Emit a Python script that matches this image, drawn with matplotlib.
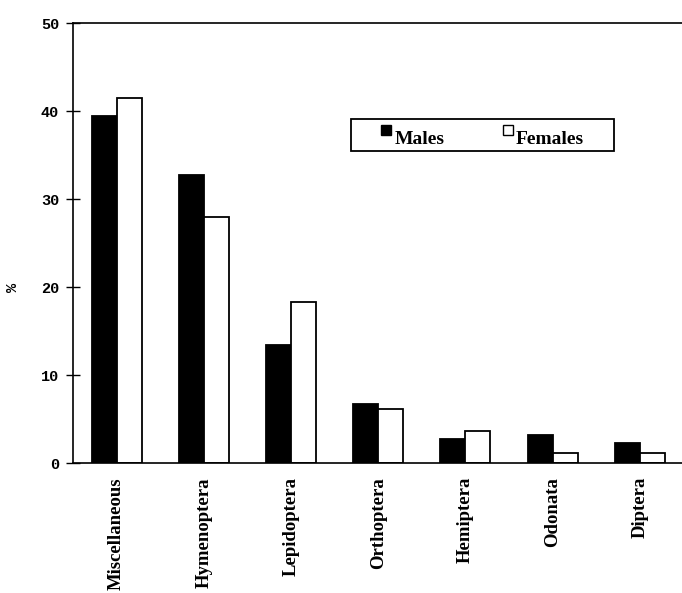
import matplotlib
matplotlib.use("Agg")
import matplotlib.pyplot as plt
from matplotlib.patches import Rectangle
import numpy as np

CATEGORIES = ["Miscellaneous", "Hymenoptera", "Lepidoptera", "Orthoptera",
              "Hemiptera", "Odonata", "Diptera"]
MALES = [39.4, 32.7, 13.4, 6.7, 2.7, 3.2, 2.3]
FEMALES = [41.5, 28.0, 18.3, 6.1, 3.6, 1.2, 1.2]
Y_TICKS = [0, 10, 20, 30, 40, 50]
SERIES = ["Males", "Females"]

MONO = "Liberation Mono"
SERIF = "Liberation Serif"
W, H = 682, 593


def px(x, y):
    # figure pixel (from top-left) -> figure fraction
    return x / W, 1 - y / H


fig = plt.figure(figsize=(W / 100, H / 100), dpi=100)
ax = fig.add_axes([0.107, 0.219, 0.895, 0.742])

x = np.arange(len(CATEGORIES))
w = 0.287
ax.bar(x - w / 2, MALES, width=w, color="black", edgecolor="black", linewidth=1.3)
ax.bar(x + w / 2, FEMALES, width=w, color="white", edgecolor="black", linewidth=1.3)

ax.set_xlim(-0.5, 6.5)
ax.set_ylim(0, 50)
ax.set_yticks(Y_TICKS)
ax.set_yticklabels([str(v) for v in Y_TICKS], fontfamily=MONO, fontweight="bold", fontsize=11)
ax.tick_params(axis="y", direction="inout", length=10, width=1, pad=5)

ax.set_xticks(x)
ax.set_xticklabels(CATEGORIES, rotation=90, fontfamily=SERIF, fontweight="bold",
                   fontsize=13.5, va="top")
ax.tick_params(axis="x", length=0, pad=10)

ax.spines["right"].set_visible(False)
for s in ("left", "top", "bottom"):
    ax.spines[s].set_linewidth(1.2)

ax.set_ylabel("%", fontfamily=MONO, fontweight="bold", fontsize=11)
ax.yaxis.set_label_coords(-0.087, 0.4)

# legend box drawn by hand to match the original spacing
bx, by = px(351, 151)
fig.add_artist(Rectangle((bx, by), 263 / W, 32 / H, transform=fig.transFigure,
                         fill=False, edgecolor="black", linewidth=1.3))
for (mx, tx), face, name in zip([(381, 395), (503, 516)], ["black", "white"], SERIES):
    mxf, myf = px(mx, 135)
    fig.add_artist(Rectangle((mxf, myf), 10 / W, 10 / H, transform=fig.transFigure,
                             facecolor=face, edgecolor="black", linewidth=1.0))
    tfx, tfy = px(tx, 144)
    fig.text(tfx, tfy, name, family=SERIF, weight="bold", fontsize=14,
             ha="left", va="baseline")

fig.savefig("out.png", dpi=100)
